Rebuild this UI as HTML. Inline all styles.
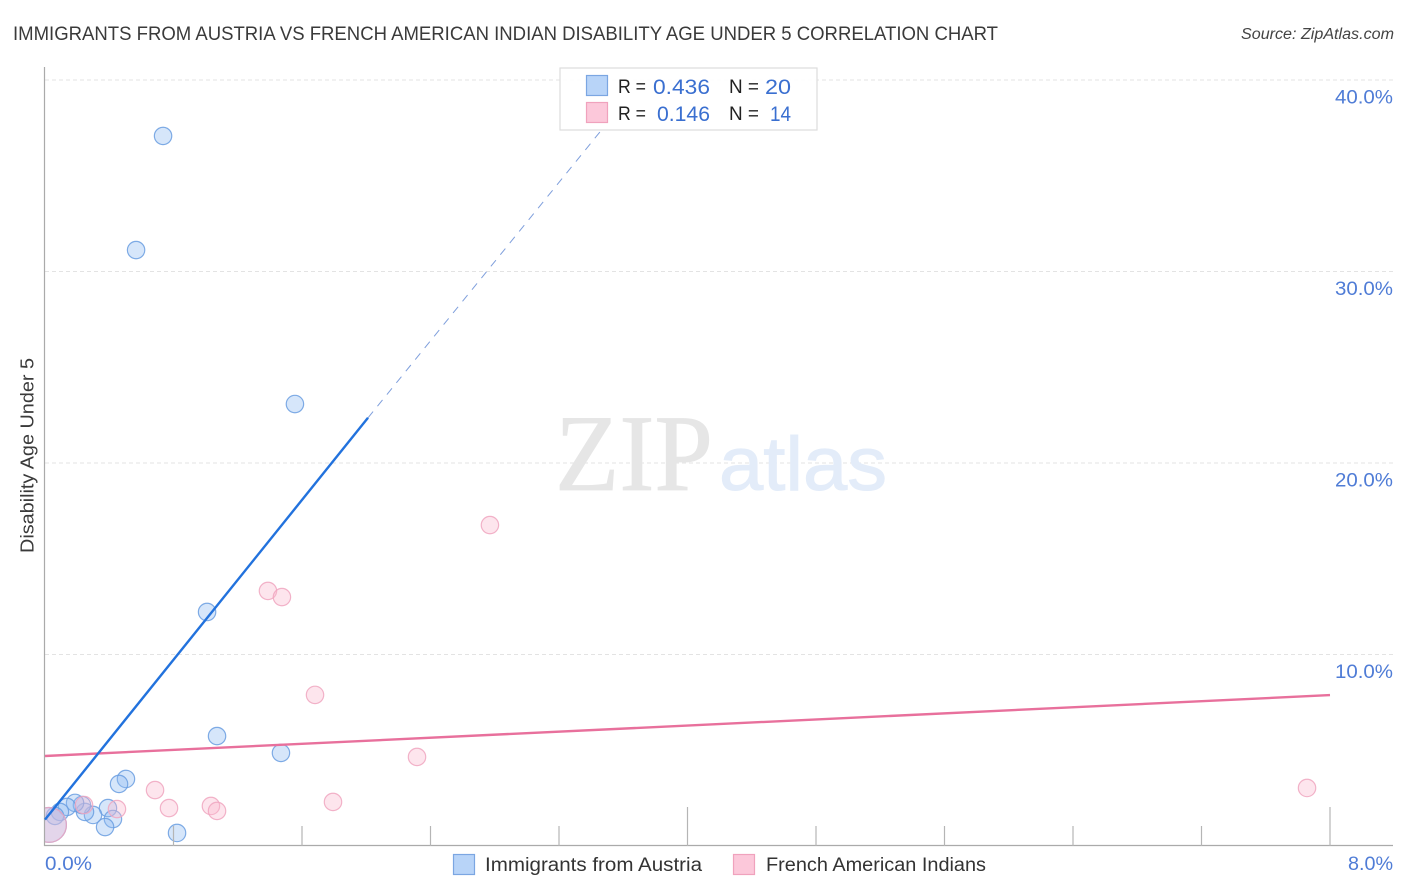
<!DOCTYPE html>
<html lang="en">
<head>
<meta charset="utf-8">
<title>Immigrants from Austria vs French American Indian Disability Age Under 5</title>
<style>
html,body{margin:0;padding:0;background:#fff;width:1406px;height:892px;overflow:hidden}
svg{display:block;font-family:"Liberation Sans",sans-serif}
</style>
</head>
<body>
<svg id="chart" xmlns="http://www.w3.org/2000/svg" width="1406" height="892" viewBox="0 0 1406 892">
  <defs>
    <clipPath id="plot-clip"><rect x="45" y="60" width="1348" height="786"/></clipPath>
  </defs>
  <rect x="0" y="0" width="1406" height="892" fill="#ffffff"/>
  <text x="13" y="40" font-size="19.5" fill="#3a3a3a" textLength="985" lengthAdjust="spacingAndGlyphs">IMMIGRANTS FROM AUSTRIA VS FRENCH AMERICAN INDIAN DISABILITY AGE UNDER 5 CORRELATION CHART</text>
  <text x="1394" y="39" font-size="15.5" font-style="italic" fill="#444" text-anchor="end" textLength="153" lengthAdjust="spacingAndGlyphs">Source: ZipAtlas.com</text>

  <g id="grid"></g>

  <g>
    <text x="555" y="490" font-family="'Liberation Serif',serif" font-size="109" fill="#e6e6e6" stroke="#e6e6e6" stroke-width="0.8" textLength="158" lengthAdjust="spacingAndGlyphs">ZIP</text>
    <text x="719" y="490" font-size="76" fill="#e3ecf9" stroke="#e3ecf9" stroke-width="1" textLength="168" lengthAdjust="spacingAndGlyphs">atlas</text>
  </g>

  <g id="points" clip-path="url(#plot-clip)"></g>
  <rect x="0" y="780" width="44" height="70" fill="#ffffff"/>

  <line x1="44.5" y1="67" x2="44.5" y2="846" stroke="#aaaaaa" stroke-width="1.2"/>
  <line x1="44" y1="845.5" x2="1393" y2="845.5" stroke="#aaaaaa" stroke-width="1.2"/>
  <g id="x-ticks"></g>
  <g id="y-labels"></g>
  <g id="x-labels"></g>
  <text transform="translate(33.5,553) rotate(-90)" font-size="18" fill="#3a3a3a" textLength="195" lengthAdjust="spacingAndGlyphs">Disability Age Under 5</text>

  <g id="trends"></g>

  <g>
    <rect x="560" y="68" width="257" height="62" fill="#ffffff" fill-opacity="0.92" stroke="#dddddd" stroke-width="1.2"/>
    <rect x="586.5" y="75.5" width="21" height="20" fill="#b8d4f8" stroke="#7ba6e2" stroke-width="1.2"/>
    <rect x="586.5" y="102.5" width="21" height="20" fill="#fcc8da" stroke="#f0a2bd" stroke-width="1.2"/>
    <text x="618" y="93" font-size="19" fill="#222" textLength="28" lengthAdjust="spacingAndGlyphs">R =</text>
    <text x="653" y="94" font-size="21" fill="#3a6fd0" textLength="57" lengthAdjust="spacingAndGlyphs">0.436</text>
    <text x="729" y="93" font-size="19" fill="#222" textLength="30" lengthAdjust="spacingAndGlyphs">N =</text>
    <text x="765" y="94" font-size="21" fill="#3a6fd0" textLength="26" lengthAdjust="spacingAndGlyphs">20</text>
    <text x="618" y="120" font-size="19" fill="#222" textLength="28" lengthAdjust="spacingAndGlyphs">R =</text>
    <text x="657" y="121" font-size="21" fill="#3a6fd0" textLength="53" lengthAdjust="spacingAndGlyphs">0.146</text>
    <text x="729" y="120" font-size="19" fill="#222" textLength="30" lengthAdjust="spacingAndGlyphs">N =</text>
    <text x="770" y="121" font-size="21" fill="#3a6fd0" textLength="21" lengthAdjust="spacingAndGlyphs">14</text>
  </g>

  <g>
    <g>
      <rect x="453.5" y="854.5" width="21" height="20" fill="#b8d4f8" stroke="#7ba6e2" stroke-width="1.2"/>
      <text x="485" y="871" font-size="19" fill="#333" textLength="217" lengthAdjust="spacingAndGlyphs">Immigrants from Austria</text>
    </g>
    <g>
      <rect x="733.5" y="854.5" width="21" height="20" fill="#fcc8da" stroke="#f0a2bd" stroke-width="1.2"/>
      <text x="766" y="871" font-size="19" fill="#333" textLength="220" lengthAdjust="spacingAndGlyphs">French American Indians</text>
    </g>
  </g>
</svg>
<script>
const yTickValues = [10, 20, 30, 40];
const yTickLabels = ["10.0%", "20.0%", "30.0%", "40.0%"];
const xTickValues = [0.8, 1.6, 2.4, 3.2, 4, 4.8, 5.6, 6.4, 7.2, 8];
const xEndValues = ["0.0%", "8.0%"];

const austriaX = [0.735, 0.567, 1.556, 1.009, 1.071, 1.469, 0.504, 0.461, 0.392, 0.423, 0.374, 0.822, 0.299, 0.249, 0.230, 0.187, 0.137, 0.093, 0.062, 0.025];
const austriaY = [37.08, 31.12, 23.08, 12.22, 5.74, 4.86, 3.50, 3.24, 1.98, 1.41, 0.99, 0.68, 1.62, 1.78, 2.14, 2.25, 2.04, 1.78, 1.57, 1.10];
const austriaWeight = [1, 1, 1, 1, 1, 1, 1, 1, 1, 1, 1, 1, 1, 1, 1, 1, 1, 1, 1, 4];

const frenchX = [0.025, 0.243, 0.448, 0.685, 0.772, 1.033, 1.071, 1.793, 2.316, 1.681, 1.388, 1.475, 2.770, 7.857];
const frenchY = [1.10, 2.14, 1.93, 2.92, 1.98, 2.09, 1.83, 2.30, 4.65, 7.89, 13.32, 13.00, 16.76, 3.03];
const frenchWeight = [4, 1, 1, 1, 1, 1, 1, 1, 1, 1, 1, 1, 1, 1];

const austriaTrendX = [0, 2.011, 3.456];
const austriaTrendY = [1.38, 22.36, 37.3];
const frenchTrendX = [0, 8];
const frenchTrendY = [4.7, 7.88];

function xPos(v) { return 45 + v * 160.625; }
function yPos(v) { return 846 - v * 19.15; }

const NS = 'http://www.w3.org/2000/svg';
function make(tag, parentId, attrs, text) {
  const el = document.createElementNS(NS, tag);
  for (const k in attrs) el.setAttribute(k, attrs[k]);
  if (text !== undefined) el.textContent = text;
  document.getElementById(parentId).appendChild(el);
  return el;
}

yTickValues.forEach(function (v, i) {
  const g = make('line', 'grid', { x1: 45, x2: 1393, y1: yPos(v), y2: yPos(v), stroke: '#e3e3e3', 'stroke-width': 1, 'stroke-dasharray': '4 3' });
  
  
  const t = make('text', 'y-labels', { x: 1393, y: yPos(v) + 23.5, 'font-size': 19, fill: '#4f7cd6', 'text-anchor': 'end', textLength: 58, lengthAdjust: 'spacingAndGlyphs' }, yTickLabels[i]);
  
  
});

xTickValues.forEach(function (v) {
  const tall = v === 4 || v === 8;
  const tick = make('line', 'x-ticks', { x1: xPos(v), x2: xPos(v), y1: 846, y2: tall ? 807 : 826, stroke: '#b5b5b5', 'stroke-width': 1.2 });
  
  
});

const xLabelLow = make('text', 'x-labels', { x: 45, y: 870, 'font-size': 19, fill: '#4f7cd6', textLength: 47, lengthAdjust: 'spacingAndGlyphs' }, xEndValues[0]);


const xLabelHigh = make('text', 'x-labels', { x: 1393, y: 870, 'font-size': 19, fill: '#4f7cd6', 'text-anchor': 'end', textLength: 45, lengthAdjust: 'spacingAndGlyphs' }, xEndValues[1]);



austriaX.forEach(function (v, i) {
  const c = make('circle', 'points', { cx: xPos(v), cy: yPos(austriaY[i]), r: 8.7 * Math.sqrt(austriaWeight[i]), fill: '#8dbaf2', 'fill-opacity': 0.36, stroke: '#6a9ee0', 'stroke-opacity': 0.85, 'stroke-width': 1.2 });
  
  
});

frenchX.forEach(function (v, i) {
  const c = make('circle', 'points', { cx: xPos(v), cy: yPos(frenchY[i]), r: 8.7 * Math.sqrt(frenchWeight[i]), fill: '#f9b6cd', 'fill-opacity': 0.36, stroke: '#f0a6c0', 'stroke-opacity': 0.85, 'stroke-width': 1.2 });
  
  
});

const pinkLine = make('line', 'trends', { x1: xPos(frenchTrendX[0]), y1: yPos(frenchTrendY[0]), x2: xPos(frenchTrendX[1]), y2: yPos(frenchTrendY[1]), stroke: '#e8709c', 'stroke-width': 2.4 });



const blueLine = make('line', 'trends', { x1: xPos(austriaTrendX[0]), y1: yPos(austriaTrendY[0]), x2: xPos(austriaTrendX[1]), y2: yPos(austriaTrendY[1]), stroke: '#2272dd', 'stroke-width': 2.4 });



const blueDash = make('line', 'trends', { x1: xPos(austriaTrendX[1]), y1: yPos(austriaTrendY[1]), x2: xPos(austriaTrendX[2]), y2: yPos(austriaTrendY[2]), stroke: '#7f9fdc', 'stroke-width': 1, 'stroke-dasharray': '8 7' });


</script>
</body>
</html>
